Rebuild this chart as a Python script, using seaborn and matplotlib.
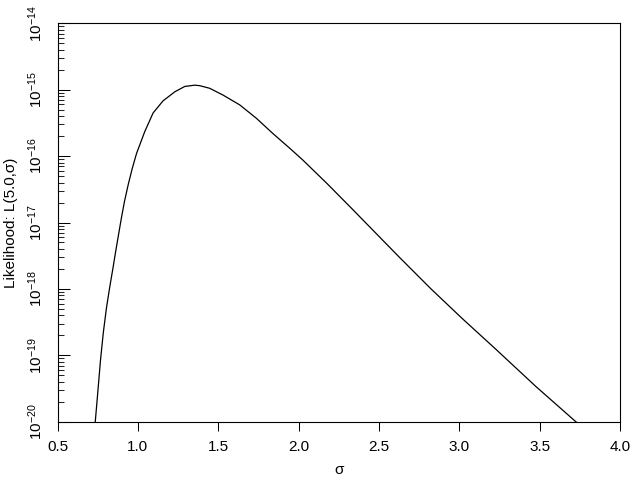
import numpy as np
import pandas as pd
import matplotlib
matplotlib.use("Agg")
import matplotlib.pyplot as plt
import matplotlib.ticker as mticker
import seaborn as sns

# Values
sigma = [0.728, 0.735, 0.752, 0.768, 0.785, 0.805, 0.826, 0.847, 0.863, 0.880,
         0.897, 0.917, 0.940, 0.965, 0.992, 1.043, 1.095, 1.157, 1.230, 1.292,
         1.354, 1.385, 1.447, 1.530, 1.634, 1.737, 1.840, 1.944, 2.027, 2.180,
         2.327, 2.627, 2.824, 3.020, 3.228, 3.476, 3.725, 3.760]
likelihood = [6.3e-21, 1.0e-20, 3.02e-20, 8.7e-20, 2.19e-19, 5.25e-19, 1.10e-18,
              2.19e-18, 3.80e-18, 6.6e-18, 1.15e-17, 2.09e-17, 3.72e-17, 6.5e-17,
              1.10e-16, 2.34e-16, 4.47e-16, 6.8e-16, 9.3e-16, 1.12e-15,
              1.17e-15, 1.15e-15, 1.05e-15, 8.3e-16, 5.9e-16, 3.72e-16, 2.19e-16,
              1.32e-16, 8.7e-17, 3.8e-17, 1.66e-17, 3.0e-18, 1.0e-18, 3.55e-19,
              1.23e-19, 3.4e-20, 1.0e-20, 8.5e-21]
x_ticks = [0.5, 1.0, 1.5, 2.0, 2.5, 3.0, 3.5, 4.0]
y_exponents = [-20, -19, -18, -17, -16, -15, -14]
x_label = "σ"
y_label = "Likelihood: L(5.0,σ)"

df = pd.DataFrame({"sigma": sigma, "L": likelihood})

sns.set_theme(style="white")
plt.rcParams["font.family"] = ["Liberation Sans", "DejaVu Sans"]
plt.rcParams["mathtext.fontset"] = "custom"
plt.rcParams["mathtext.rm"] = "Liberation Sans"
plt.rcParams["mathtext.it"] = "Liberation Sans"
plt.rcParams["mathtext.default"] = "regular"

fig = plt.figure(figsize=(6.4, 4.8), dpi=100)
ax = fig.add_axes([57.5 / 640, 1 - 421.7 / 480, (620 - 57.5) / 640, (421.7 - 23.3) / 480])

sns.lineplot(data=df, x="sigma", y="L", ax=ax, color="black", linewidth=0.9,
             sort=False, estimator=None)
ax.set_yscale("log")
ax.set_xlim(0.5, 4.0)
ax.set_ylim(10.0 ** y_exponents[0], 10.0 ** y_exponents[-1])

ax.set_xticks(x_ticks)
ax.set_xticklabels([f"{v:.1f}" for v in x_ticks])
ax.set_yticks([10.0 ** e for e in y_exponents])
ax.set_yticklabels([rf"$10^{{{e}}}$" for e in y_exponents], rotation=90, va="center")
ax.yaxis.set_minor_locator(mticker.LogLocator(base=10, subs=np.arange(2, 10), numticks=100))
ax.yaxis.set_minor_formatter(mticker.NullFormatter())

ax.tick_params(axis="x", which="major", direction="out", length=6.5, width=0.75,
               pad=7, labelsize=11, colors="black", bottom=True)
ax.tick_params(axis="y", which="major", direction="in", length=8.6, width=0.75,
               pad=9, labelsize=11, colors="black", left=True)
ax.tick_params(axis="y", which="minor", direction="in", length=4.3, width=0.75,
               left=True)

for s in ax.spines.values():
    s.set_color("black")
    s.set_linewidth(0.8)

ax.set_xlabel(x_label, fontsize=11, color="black", labelpad=6)
ax.set_ylabel(y_label, fontsize=11, color="black")
ax.yaxis.set_label_coords(-0.070, 0.5)

fig.savefig("out.png", dpi=100, facecolor="white")
